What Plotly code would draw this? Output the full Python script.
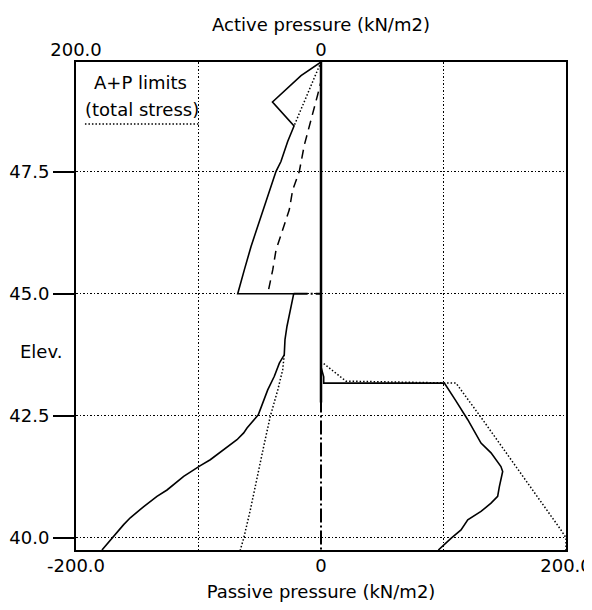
import plotly.graph_objects as go

# ---- data (pressures in kN/m2, elevations in m) ----
# Active side (read on top axis, positive = left)
act_solid_p = [0, 16.3, 39.6, 22.0, 27.2, 32.7, 36.7, 40.8, 46.3, 51.7, 57.1, 62.6, 66.7, 68.0,
               22.3, 24.5, 25.9, 27.8, 29.4, 30.0, 34.0, 38.1, 43.5, 47.6, 51.2,
               60.4, 63.1, 68.6, 79.4, 90.4, 98.5, 112.1, 125.7, 133.9, 144.7, 155.7, 161.1, 170.6, 178.8]
act_solid_e = [49.75, 49.47, 48.93, 48.44, 48.12, 47.71, 47.51, 47.20, 46.79, 46.38, 45.97, 45.49, 45.15, 45.0,
               45.0, 44.74, 44.53, 44.33, 44.06, 43.75, 43.58, 43.31, 43.03, 42.76, 42.52,
               42.25, 42.15, 42.01, 41.80, 41.60, 41.48, 41.26, 40.98, 40.85, 40.64, 40.41, 40.27, 39.99, 39.75]

act_limit_upper_p = [0, 22.0]
act_limit_upper_e = [49.75, 48.44]

act_limit_lower_p = [30.0, 31.3, 35.3, 41.4, 46.8, 52.2, 57.7, 63.1, 65.9]
act_limit_lower_e = [43.75, 43.44, 43.03, 42.49, 41.87, 41.19, 40.57, 39.99, 39.75]

act_dashed_p = [0, 0, 2.7, 8.2, 13.6, 17.7, 23.1, 25.9, 31.3, 36.7, 39.4, 42.2, 43.5]
act_dashed_e = [49.75, 49.35, 49.08, 48.53, 48.05, 47.51, 47.13, 46.72, 46.31, 45.9, 45.49, 45.12, 45.0]

dashdot_p = [22.3, 0, 0]
dashdot_e = [45.0, 45.0, 39.75]

wall_p = [0, 0]
wall_e = [49.75, 42.77]

# Passive side (read on bottom axis)
pas_solid_p = [0, 1.7, 2.2, 2.2, 100.7, 110.0, 119.8, 130.6, 138.8, 146.9, 148.3, 145.6, 144.2,
               138.8, 130.6, 119.8, 114.3, 106.1, 95.8]
pas_solid_e = [43.5, 43.33, 43.3, 43.17, 43.17, 42.81, 42.42, 41.94, 41.74, 41.46, 41.36, 41.05, 40.85,
               40.71, 40.54, 40.37, 40.16, 39.99, 39.75]

pas_limit_p = [2.2, 20.4, 110.2, 132.0, 195.9, 200.0, 200.0]
pas_limit_e = [43.57, 43.21, 43.17, 42.42, 40.16, 40.0, 39.75]

x_ticks = [-200, 0, 200]
x_ticktext = ["-200.0", "0", "200.0"]
x2_ticks = [200, 0, -200]
x2_ticktext = ["200.0", "0", "-200.0"]
y_ticks = [40.0, 42.5, 45.0, 47.5]
y_ticktext = ["40.0", "42.5", "45.0", "47.5"]
x_grid = [-100, 100]

FONT = "DejaVu Sans"
DOT = "1.5px,2px"

fig = go.Figure()

def add(x, y, axis, dash, width):
    fig.add_trace(go.Scatter(x=x, y=y, xaxis=axis, yaxis="y", mode="lines",
                             line=dict(color="black", width=width, dash=dash),
                             showlegend=False, hoverinfo="skip"))

add(act_limit_upper_p, act_limit_upper_e, "x2", DOT, 1.5)
add(act_limit_lower_p, act_limit_lower_e, "x2", DOT, 1.5)
add(pas_limit_p, pas_limit_e, "x", DOT, 1.5)
add(act_dashed_p, act_dashed_e, "x2", "9px,6px", 1.5)
add(dashdot_p, dashdot_e, "x2", "14px,3px,2px,3px", 2)
add(wall_p, wall_e, "x2", "solid", 2.5)
add(act_solid_p, act_solid_e, "x2", "solid", 1.6)
add(pas_solid_p, pas_solid_e, "x", "solid", 1.6)

fig.update_layout(
    width=584, height=602,
    margin=dict(l=68, r=26, t=54, b=60),
    paper_bgcolor="white", plot_bgcolor="white",
    font=dict(family=FONT, size=18, color="black"),
    xaxis=dict(range=[-200, 200], tickvals=x_ticks, ticktext=x_ticktext, automargin=False,
               showgrid=False, zeroline=False, showline=True, linecolor="black", linewidth=2,
               ticks="", ticklen=0, ticklabelstandoff=-2,
               minor=dict(tickvals=x_grid, showgrid=True, gridcolor="black", gridwidth=1, griddash=DOT, ticks=""),
               title=dict(text="Passive pressure (kN/m2)", standoff=11, font=dict(size=18))),
    xaxis2=dict(range=[200, -200], overlaying="x", side="top", tickvals=x2_ticks, ticktext=x2_ticktext,
                automargin=False,
                showgrid=False, zeroline=False, showline=True, linecolor="black", linewidth=2,
                ticks="", ticklabelstandoff=-3,
                title=dict(text="Active pressure (kN/m2)", standoff=2, font=dict(size=18))),
    yaxis=dict(range=[39.75, 49.75], tickvals=y_ticks, ticktext=y_ticktext, automargin=False,
               showgrid=True, gridcolor="black", gridwidth=1, griddash=DOT, zeroline=False,
               showline=True, mirror=True, linecolor="black", linewidth=2,
               ticks="outside", ticklen=21, tickwidth=2, tickcolor="black"),
    shapes=[dict(type="line", xref="x", yref="y", x0=-192.7, x1=-100, y0=48.48, y1=48.48,
                 line=dict(color="black", width=1.5, dash=DOT))],
    annotations=[
        dict(text="Elev.", xref="paper", yref="y", x=0, y=43.81, xanchor="right", yanchor="middle",
             xshift=-12, showarrow=False, font=dict(size=18)),
        dict(text="A+P limits", xref="x", yref="y", x=-147, y=49.34, xanchor="center", yanchor="middle",
             showarrow=False, font=dict(size=18)),
        dict(text="(total stress)", xref="x", yref="y", x=-146, y=48.77, xanchor="center", yanchor="middle",
             showarrow=False, font=dict(size=18)),
    ],
)

fig.write_html("out.html")
